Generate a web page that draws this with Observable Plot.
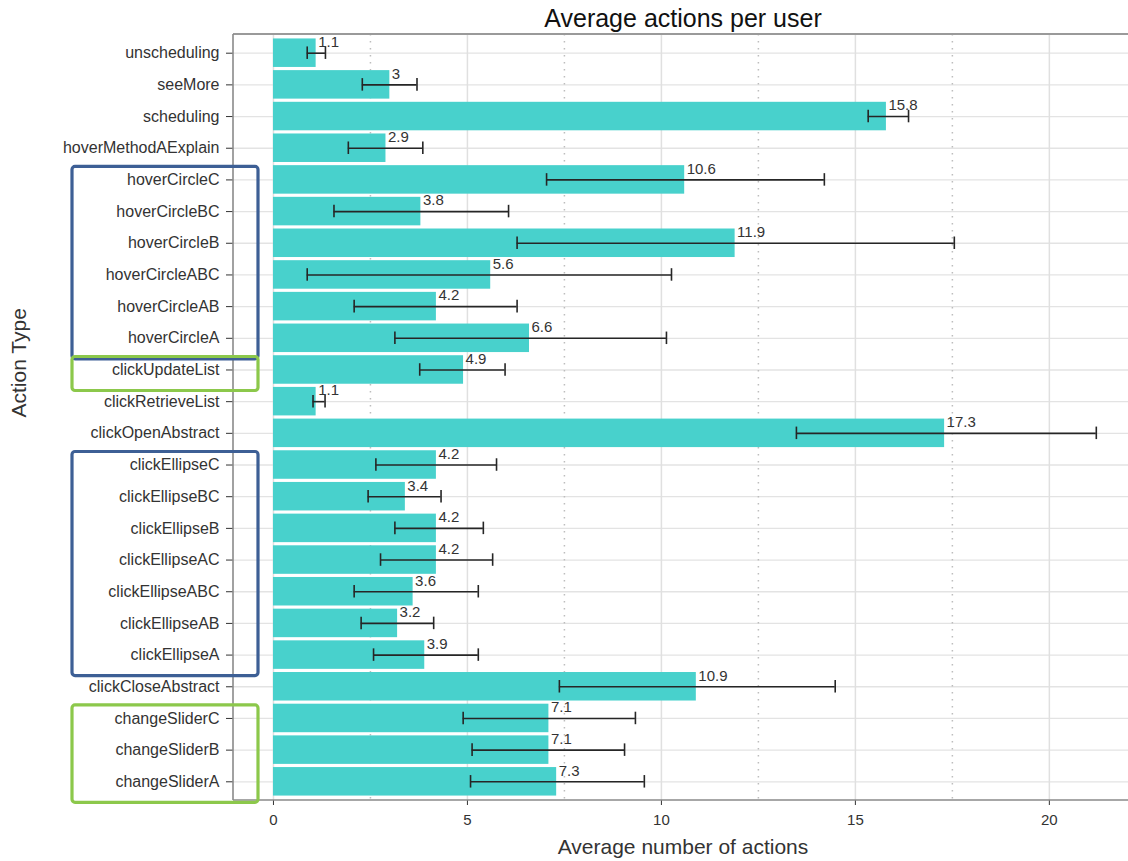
<!DOCTYPE html>
<html>
<head>
<meta charset="utf-8">
<script src="https://cdn.jsdelivr.net/npm/d3@7"></script>
<script src="https://cdn.jsdelivr.net/npm/@observablehq/plot@0.6"></script>
<style>
  body { margin: 0; background: #fff; }
  svg { display: block; }
</style>
</head>
<body>
<div id="chart"></div>
<script>
// Action types, listed top to bottom
const actions = [
  "unscheduling", "seeMore", "scheduling", "hoverMethodAExplain",
  "hoverCircleC", "hoverCircleBC", "hoverCircleB", "hoverCircleABC", "hoverCircleAB", "hoverCircleA",
  "clickUpdateList", "clickRetrieveList", "clickOpenAbstract",
  "clickEllipseC", "clickEllipseBC", "clickEllipseB", "clickEllipseAC", "clickEllipseABC", "clickEllipseAB", "clickEllipseA",
  "clickCloseAbstract", "changeSliderC", "changeSliderB", "changeSliderA"
];

// Average number of actions per user
const means = [
  1.1, 3, 15.8, 2.9,
  10.6, 3.8, 11.9, 5.6, 4.2, 6.6,
  4.9, 1.1, 17.3,
  4.2, 3.4, 4.2, 4.2, 3.6, 3.2, 3.9,
  10.9, 7.1, 7.1, 7.3
];

// Error bar ends
const lower = [
  0.87, 2.29, 15.33, 1.93,
  7.04, 1.56, 6.28, 0.87, 2.08, 3.13,
  3.77, 1.02, 13.48,
  2.64, 2.44, 3.13, 2.76, 2.08, 2.26, 2.58,
  7.37, 4.89, 5.12, 5.08
];
const upper = [
  1.34, 3.70, 16.37, 3.85,
  14.2, 6.06, 17.55, 10.26, 6.28, 10.13,
  5.97, 1.33, 21.21,
  5.75, 4.32, 5.41, 5.65, 5.28, 4.13, 5.28,
  14.48, 9.33, 9.05, 9.56
];

const majorTicks = [0, 5, 10, 15, 20];
const minorTicks = [2.5, 7.5, 12.5, 17.5];
const xExtent = [-1.03, 22.04];

// Highlighted groups of actions
const groupFirst = ["hoverCircleC", "clickUpdateList", "clickEllipseC", "changeSliderC"];
const groupLast  = ["hoverCircleA", "clickUpdateList", "clickEllipseA", "changeSliderA"];
const groupColor = ["#3d5f95", "#8cc84b", "#3d5f95", "#8cc84b"];

const titleText = "Average actions per user";
const xLabel = "Average number of actions";
const yLabel = "Action Type";

const rows = actions.map((a, i) => ({action: a, mean: means[i], lo: lower[i], hi: upper[i]}));

const font = "'Liberation Sans', Arial, Helvetica, sans-serif";
const barColor = "#48d1cc";
const errColor = "#262626";

const chart = Plot.plot({
  width: 1128,
  height: 861,
  marginTop: 34,
  marginBottom: 61,
  marginLeft: 233,
  marginRight: 0,
  style: {fontFamily: font, fontSize: "16px", color: "#333", background: "#fff", overflow: "visible"},
  x: {domain: xExtent},
  y: {domain: actions, paddingInner: 0.1, paddingOuter: 0.14, round: false},
  marks: [
    // grid
    Plot.gridY({stroke: "#e3e3e3", strokeOpacity: 1, strokeWidth: 1.3}),
    Plot.ruleX(minorTicks, {stroke: "#bdbdbd", strokeWidth: 1.5, strokeDasharray: "1.5,5.5"}),
    Plot.ruleX(majorTicks, {stroke: "#e0e0e0", strokeWidth: 1.5}),
    // bars
    Plot.barX(rows, {x: "mean", y: "action", fill: barColor}),
    // error bars
    Plot.ruleY(rows, {y: "action", x1: "lo", x2: "hi", stroke: errColor, strokeWidth: 1.6}),
    Plot.tickX(rows, {x: "lo", y: "action", stroke: errColor, strokeWidth: 1.6, insetTop: 8, insetBottom: 8}),
    Plot.tickX(rows, {x: "hi", y: "action", stroke: errColor, strokeWidth: 1.6, insetTop: 8, insetBottom: 8}),
    // value labels
    Plot.text(rows, {x: "mean", y: "action", text: d => String(d.mean), textAnchor: "start", dx: 2, dy: -11, fontSize: 15, fill: "#333"}),
    // axes
    Plot.axisX({ticks: majorTicks, tickSize: 5, tickPadding: 9, fontSize: 15, label: null, stroke: "#333", color: "#333"}),
    Plot.axisY({tickSize: 7, tickPadding: 7, fontSize: 16, label: null, stroke: "#333", color: "#333"}),
    // titles
    Plot.text([titleText], {frameAnchor: "top", dx: 2, dy: -16, fontSize: 25, fill: "#111", lineAnchor: "middle"}),
    Plot.text([xLabel], {frameAnchor: "bottom", dx: 2, dy: 47, fontSize: 21, fill: "#333", lineAnchor: "middle"}),
    Plot.text([yLabel], {frameAnchor: "left", dx: -214, rotate: -90, fontSize: 21, fill: "#333", lineAnchor: "middle"})
  ]
});

document.getElementById("chart").appendChild(chart);

// panel border lines (left, top, bottom) and group outlines, placed from the scales
const svg = d3.select(chart);
const xs = chart.scale("x");
const ys = chart.scale("y");
const [px0, px1] = xs.range;
const [py0, py1] = ys.range;

svg.append("line").attr("x1", px0).attr("x2", px1).attr("y1", py0).attr("y2", py0)
  .attr("stroke", "#9a9a9a").attr("stroke-width", 2);
svg.append("line").attr("x1", px0).attr("x2", px1).attr("y1", py1).attr("y2", py1)
  .attr("stroke", "#8a8a8a").attr("stroke-width", 1.6);
svg.append("line").attr("x1", px0).attr("x2", px0).attr("y1", py0).attr("y2", py1)
  .attr("stroke", "#8a8a8a").attr("stroke-width", 1.6);

const bw = ys.bandwidth;
const boxLeft = 72, boxRight = px0 + 25;
groupFirst.forEach((first, i) => {
  const top = ys.apply(first) + bw / 2 - 13;
  const bottom = ys.apply(groupLast[i]) + bw / 2 + 21;
  svg.append("rect")
    .attr("x", boxLeft).attr("y", top)
    .attr("width", boxRight - boxLeft).attr("height", bottom - top)
    .attr("rx", 3)
    .attr("fill", "none")
    .attr("stroke", groupColor[i])
    .attr("stroke-width", 3.2);
});
</script>
</body>
</html>
